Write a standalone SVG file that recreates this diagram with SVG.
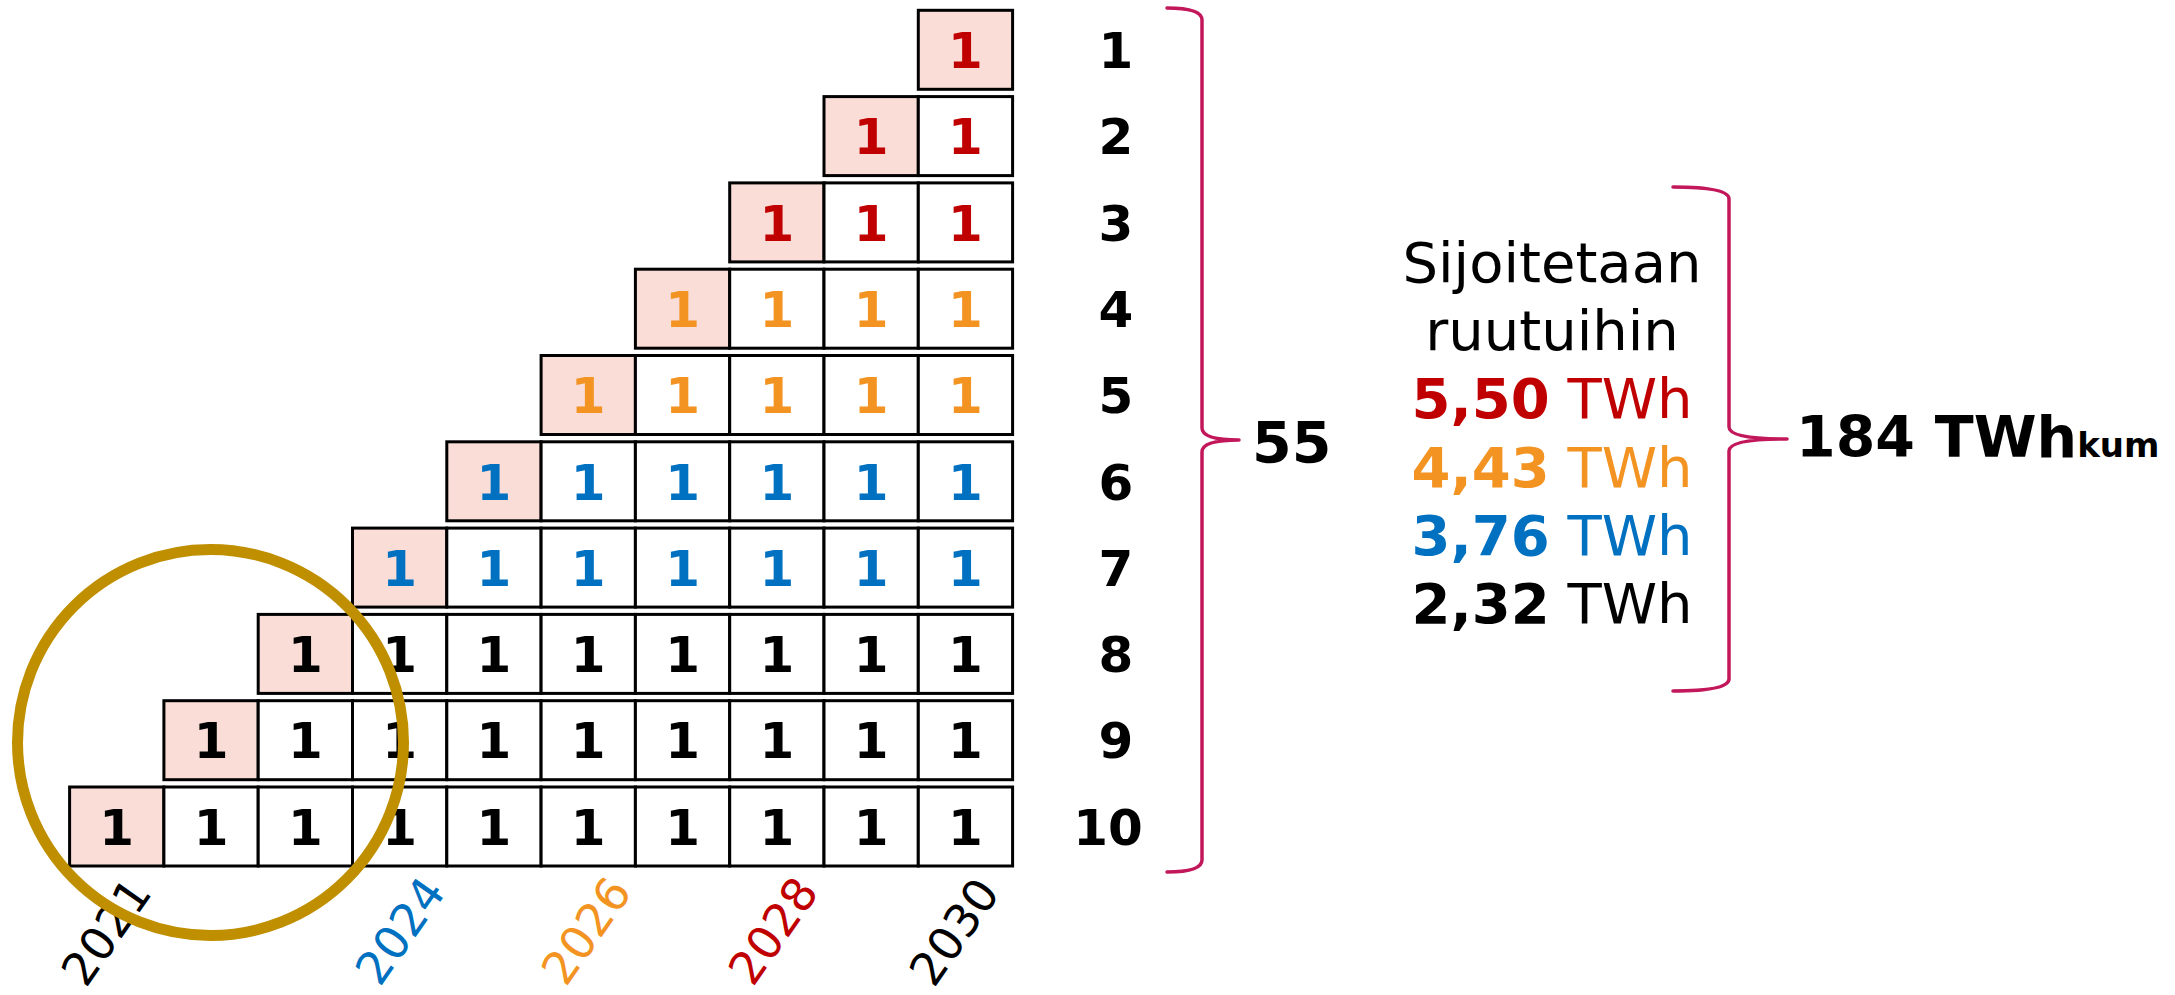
<svg xmlns="http://www.w3.org/2000/svg" width="2175" height="995" viewBox="0 0 2175 995">
<style>
.c{fill:#fff;stroke:#000;stroke-width:3}
.p{fill:#F9DDD6;stroke:#000;stroke-width:3}
.d{font-family:"DejaVu Sans",Verdana,sans-serif;font-weight:bold;font-size:50px;text-anchor:middle}
.r{fill:#C00000}.o{fill:#F39322}.b{fill:#0070C0}.k{fill:#000}
.n{font-family:"DejaVu Sans",Verdana,sans-serif;font-weight:bold;font-size:50px;text-anchor:middle;fill:#000}
.y{font-family:"DejaVu Sans",Verdana,sans-serif;font-size:46px;text-anchor:end}
.t{font-family:"DejaVu Sans",Verdana,sans-serif;font-size:56px;text-anchor:middle}
.br{fill:none;stroke:#C2185B;stroke-width:3.5;stroke-linecap:round;stroke-linejoin:round}
</style>
<rect width="2175" height="995" fill="#fff"/>
<g id="row1">
<rect class="p" x="918.3" y="10.3" width="94.3" height="79"/>
<text class="d r" x="965.45" y="68">1</text>
</g>
<g id="row2">
<rect class="p" x="824" y="96.6" width="94.3" height="79"/>
<rect class="c" x="918.3" y="96.6" width="94.3" height="79"/>
<text class="d r" y="154.3"><tspan x="871.15">1</tspan><tspan x="965.45">1</tspan></text>
</g>
<g id="row3">
<rect class="p" x="729.7" y="182.9" width="94.3" height="79"/>
<rect class="c" x="824" y="182.9" width="94.3" height="79"/>
<rect class="c" x="918.3" y="182.9" width="94.3" height="79"/>
<text class="d r" y="240.6"><tspan x="776.85">1</tspan><tspan x="871.15">1</tspan><tspan x="965.45">1</tspan></text>
</g>
<g id="row4">
<rect class="p" x="635.4" y="269.2" width="94.3" height="79"/>
<rect class="c" x="729.7" y="269.2" width="94.3" height="79"/>
<rect class="c" x="824" y="269.2" width="94.3" height="79"/>
<rect class="c" x="918.3" y="269.2" width="94.3" height="79"/>
<text class="d o" y="326.9"><tspan x="682.55">1</tspan><tspan x="776.85">1</tspan><tspan x="871.15">1</tspan><tspan x="965.45">1</tspan></text>
</g>
<g id="row5">
<rect class="p" x="541.1" y="355.5" width="94.3" height="79"/>
<rect class="c" x="635.4" y="355.5" width="94.3" height="79"/>
<rect class="c" x="729.7" y="355.5" width="94.3" height="79"/>
<rect class="c" x="824" y="355.5" width="94.3" height="79"/>
<rect class="c" x="918.3" y="355.5" width="94.3" height="79"/>
<text class="d o" y="413.2"><tspan x="588.25">1</tspan><tspan x="682.55">1</tspan><tspan x="776.85">1</tspan><tspan x="871.15">1</tspan><tspan x="965.45">1</tspan></text>
</g>
<g id="row6">
<rect class="p" x="446.8" y="441.8" width="94.3" height="79"/>
<rect class="c" x="541.1" y="441.8" width="94.3" height="79"/>
<rect class="c" x="635.4" y="441.8" width="94.3" height="79"/>
<rect class="c" x="729.7" y="441.8" width="94.3" height="79"/>
<rect class="c" x="824" y="441.8" width="94.3" height="79"/>
<rect class="c" x="918.3" y="441.8" width="94.3" height="79"/>
<text class="d b" y="499.5"><tspan x="493.95">1</tspan><tspan x="588.25">1</tspan><tspan x="682.55">1</tspan><tspan x="776.85">1</tspan><tspan x="871.15">1</tspan><tspan x="965.45">1</tspan></text>
</g>
<g id="row7">
<rect class="p" x="352.5" y="528.1" width="94.3" height="79"/>
<rect class="c" x="446.8" y="528.1" width="94.3" height="79"/>
<rect class="c" x="541.1" y="528.1" width="94.3" height="79"/>
<rect class="c" x="635.4" y="528.1" width="94.3" height="79"/>
<rect class="c" x="729.7" y="528.1" width="94.3" height="79"/>
<rect class="c" x="824" y="528.1" width="94.3" height="79"/>
<rect class="c" x="918.3" y="528.1" width="94.3" height="79"/>
<text class="d b" y="585.8"><tspan x="399.65">1</tspan><tspan x="493.95">1</tspan><tspan x="588.25">1</tspan><tspan x="682.55">1</tspan><tspan x="776.85">1</tspan><tspan x="871.15">1</tspan><tspan x="965.45">1</tspan></text>
</g>
<g id="row8">
<rect class="p" x="258.2" y="614.4" width="94.3" height="79"/>
<rect class="c" x="352.5" y="614.4" width="94.3" height="79"/>
<rect class="c" x="446.8" y="614.4" width="94.3" height="79"/>
<rect class="c" x="541.1" y="614.4" width="94.3" height="79"/>
<rect class="c" x="635.4" y="614.4" width="94.3" height="79"/>
<rect class="c" x="729.7" y="614.4" width="94.3" height="79"/>
<rect class="c" x="824" y="614.4" width="94.3" height="79"/>
<rect class="c" x="918.3" y="614.4" width="94.3" height="79"/>
<text class="d k" y="672.1"><tspan x="305.35">1</tspan><tspan x="399.65">1</tspan><tspan x="493.95">1</tspan><tspan x="588.25">1</tspan><tspan x="682.55">1</tspan><tspan x="776.85">1</tspan><tspan x="871.15">1</tspan><tspan x="965.45">1</tspan></text>
</g>
<g id="row9">
<rect class="p" x="163.9" y="700.7" width="94.3" height="79"/>
<rect class="c" x="258.2" y="700.7" width="94.3" height="79"/>
<rect class="c" x="352.5" y="700.7" width="94.3" height="79"/>
<rect class="c" x="446.8" y="700.7" width="94.3" height="79"/>
<rect class="c" x="541.1" y="700.7" width="94.3" height="79"/>
<rect class="c" x="635.4" y="700.7" width="94.3" height="79"/>
<rect class="c" x="729.7" y="700.7" width="94.3" height="79"/>
<rect class="c" x="824" y="700.7" width="94.3" height="79"/>
<rect class="c" x="918.3" y="700.7" width="94.3" height="79"/>
<text class="d k" y="758.4"><tspan x="211.05">1</tspan><tspan x="305.35">1</tspan><tspan x="399.65">1</tspan><tspan x="493.95">1</tspan><tspan x="588.25">1</tspan><tspan x="682.55">1</tspan><tspan x="776.85">1</tspan><tspan x="871.15">1</tspan><tspan x="965.45">1</tspan></text>
</g>
<g id="row10">
<rect class="p" x="69.6" y="787" width="94.3" height="79"/>
<rect class="c" x="163.9" y="787" width="94.3" height="79"/>
<rect class="c" x="258.2" y="787" width="94.3" height="79"/>
<rect class="c" x="352.5" y="787" width="94.3" height="79"/>
<rect class="c" x="446.8" y="787" width="94.3" height="79"/>
<rect class="c" x="541.1" y="787" width="94.3" height="79"/>
<rect class="c" x="635.4" y="787" width="94.3" height="79"/>
<rect class="c" x="729.7" y="787" width="94.3" height="79"/>
<rect class="c" x="824" y="787" width="94.3" height="79"/>
<rect class="c" x="918.3" y="787" width="94.3" height="79"/>
<text class="d k" y="844.7"><tspan x="116.75">1</tspan><tspan x="211.05">1</tspan><tspan x="305.35">1</tspan><tspan x="399.65">1</tspan><tspan x="493.95">1</tspan><tspan x="588.25">1</tspan><tspan x="682.55">1</tspan><tspan x="776.85">1</tspan><tspan x="871.15">1</tspan><tspan x="965.45">1</tspan></text>
</g>
<g id="row-numbers">
<text class="n" x="1116" y="68">1</text>
<text class="n" x="1116" y="154.3">2</text>
<text class="n" x="1116" y="240.6">3</text>
<text class="n" x="1116" y="326.9">4</text>
<text class="n" x="1116" y="413.2">5</text>
<text class="n" x="1116" y="499.5">6</text>
<text class="n" x="1116" y="585.8">7</text>
<text class="n" x="1116" y="672.1">8</text>
<text class="n" x="1116" y="758.4">9</text>
<text class="n" x="1108" y="844.7">10</text>
</g>
<g id="years">
<text class="y k" transform="translate(153,893) rotate(-55)">2021</text>
<text class="y b" transform="translate(447,892) rotate(-55)">2024</text>
<text class="y o" transform="translate(633,892) rotate(-55)">2026</text>
<text class="y r" transform="translate(820,892) rotate(-55)">2028</text>
<text class="y k" transform="translate(1001,893) rotate(-55)">2030</text>
</g>
<g id="circle">
<circle cx="210.5" cy="742.5" r="193" fill="none" stroke="#BF8F00" stroke-width="11"/>
</g>
<g id="connectors">
<path class="br" d="M1167,8 Q1202,8 1202,20 L1202,428 Q1202,440 1239,440 Q1202,440 1202,452 L1202,860 Q1202,872 1167,872"/>
<path class="br" d="M1673,187 Q1729,187 1729,199 L1729,427 Q1729,439 1787,439 Q1729,439 1729,451 L1729,679 Q1729,691 1673,691"/>
</g>
<g id="total55">
<text x="1252" y="463" style="font-family:'DejaVu Sans',Verdana,sans-serif;font-weight:bold;font-size:57px">55</text>
</g>
<g id="info">
<text class="t k" x="1552" y="282">Sijoitetaan</text>
<text class="t k" x="1552" y="350">ruutuihin</text>
<text class="t r" x="1552" y="418"><tspan font-weight="bold">5,50</tspan> TWh</text>
<text class="t o" x="1552" y="487"><tspan font-weight="bold">4,43</tspan> TWh</text>
<text class="t b" x="1552" y="555"><tspan font-weight="bold">3,76</tspan> TWh</text>
<text class="t k" x="1552" y="623"><tspan font-weight="bold">2,32</tspan> TWh</text>
</g>
<g id="total184">
<text x="1796" y="457" style="font-family:'DejaVu Sans',Verdana,sans-serif;font-weight:bold;font-size:57px">184 TWh<tspan font-size="34px">kum</tspan></text>
</g>
</svg>
